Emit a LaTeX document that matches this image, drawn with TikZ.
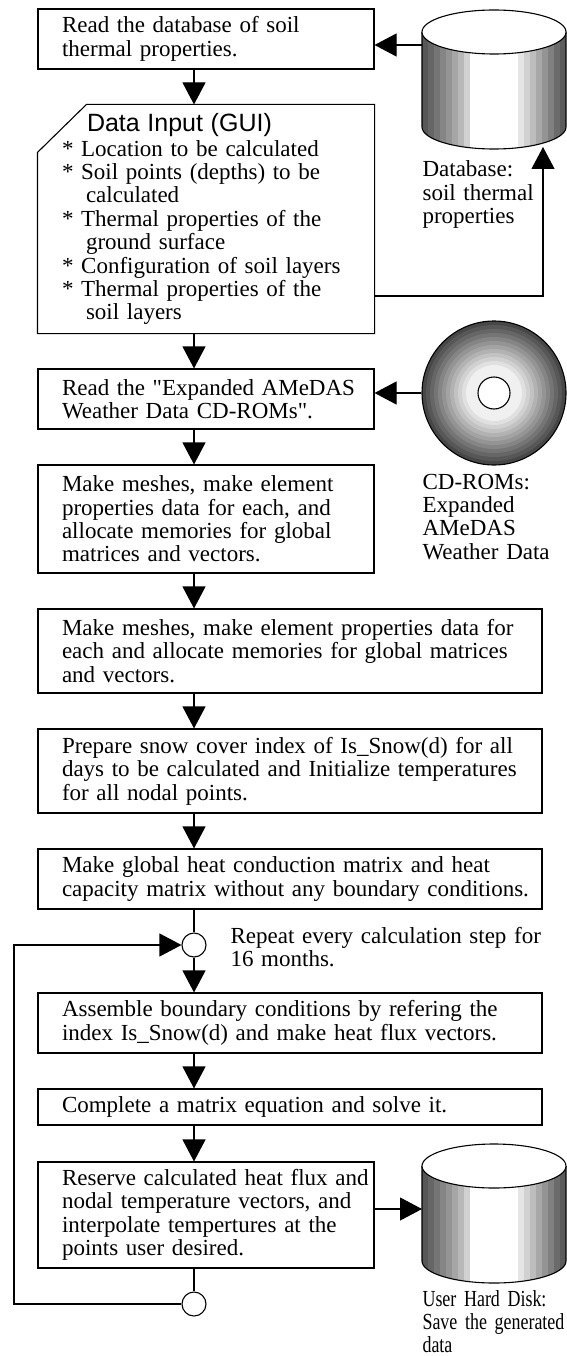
\documentclass[tikz,border=0pt]{standalone}
\usepackage{fontspec}
\setmainfont{Liberation Serif}[Ligatures=TeXOff]
\newfontfamily\guifont{Liberation Sans}
\newfontfamily\narrowfont{Liberation Serif}[FakeStretch=0.78]
\usetikzlibrary{arrows.meta}

% storage drum: #1 = centre x, #2 = y of the lid
\newcommand{\drawdrum}[2]{%
  \begin{scope}
    \clip (#1-72,#2) -- (#1-72,#2+95) arc [start angle=180, end angle=0, x radius=72, y radius=22] -- (#1+72,#2) -- cycle;
    \foreach \tone [count=\k from 0] in {66,60,54,48,42,35,28,18,0,0,0,0,0,0,0,0,10,18,26,34,42,50,58,64}
      \fill[black!\tone] (#1-72+6*\k,#2) rectangle ++(6.3,120);
  \end{scope}
  \draw (#1-72,#2) -- (#1-72,#2+95) arc [start angle=180, end angle=0, x radius=72, y radius=22] -- (#1+72,#2);
  \draw[fill=white] (#1,#2) ellipse [x radius=72, y radius=22];
}

\begin{document}
\begin{tikzpicture}[x=1pt, y=-1pt, line width=1.1pt, >={Triangle[length=22pt,width=23pt]}, font=\fontsize{23pt}{23.4pt}\selectfont]
        \tikzstyle{stepbox}=[draw, fill=white, text width=336pt, minimum height=60pt, inner xsep=0pt, inner ysep=0pt, align=left, execute at begin node={\leftskip=24pt\rightskip=-24pt plus 1fil}]
        \tikzstyle{widestep}=[stepbox, text width=504pt]
        \tikzstyle{joint}=[circle, draw, fill=white, inner sep=0pt, minimum size=24pt]
        \tikzstyle{note}=[anchor=base west, text width=200pt, inner sep=0pt, align=left]
        \useasboundingbox (0,0) rectangle (566,1356);

        \node[stepbox] (read) at (206,39) {Read the database of soil\\thermal properties.};
        \node[stepbox, draw=none, fill=none, minimum height=228pt] (input) at (206,219) {\hspace*{25pt}{\guifont\fontsize{25pt}{25pt}\selectfont Data Input (GUI)}\\[1.6pt]
            {*} Location to be calculated\\
            {*} Soil points (depths) to be\\
            \hspace*{24pt}calculated\\
            {*} Thermal properties of the\\
            \hspace*{24pt}ground surface\\
            {*} Configuration of soil layers\\
            {*} Thermal properties of the\\
            \hspace*{24pt}soil layers};
        \draw ([xshift=49pt]input.north west) -- (input.north east) -- (input.south east) -- (input.south west) -- ([yshift=-48pt]input.north west) -- cycle;
        \node[stepbox] (amedas) at (206,399) {Read the "Expanded AMeDAS\\Weather Data CD-ROMs".};
        \node[stepbox, minimum height=108pt] (meshA) at (206,519) {Make meshes, make element\\properties data for each, and\\allocate memories for global\\matrices and vectors.};
        \node[widestep, minimum height=84pt] (meshB) at (290,651) {Make meshes, make element properties data for\\each and allocate memories for global matrices\\and vectors.};
        \node[widestep, minimum height=84pt] (snow) at (290,771) {Prepare snow cover index of Is\_Snow(d) for all\\days to be calculated and Initialize temperatures\\for all nodal points.};
        \node[widestep] (global) at (290,879) {Make global heat conduction matrix and heat\\capacity matrix without any boundary conditions.};
        \node[joint] (loopin) at (194,945) {};
        \node[note, text width=330pt] (repeat) at (230,943) {Repeat every calculation step for\\16 months.};
        \node[widestep] (assemble) at (290,1023) {Assemble boundary conditions by refering the\\index Is\_Snow(d) and make heat flux vectors.};
        \node[widestep, minimum height=36pt] (solve) at (290,1107) {Complete a matrix equation and solve it.};
        \node[stepbox, minimum height=106pt] (reserve) at (206,1215) {Reserve calculated heat flux and\\nodal temperature vectors, and\\interpolate tempertures at the\\points user desired.};
        \node[joint] (loopout) at (194,1304) {};

        % soil database
        \drawdrum{494}{32}
        \coordinate (dbside) at (422,45);
        \coordinate (dbfoot) at (543,147);
        \coordinate (feed) at (0,296);
        \node[note] (dbnote) at (422,177) {Database:\\soil thermal\\properties};

        % weather CD-ROM
        \node[circle, minimum size=144pt, inner sep=0pt] (cd) at (494,393) {};
        \foreach \i [evaluate=\i as \rad using 72-4*\i, evaluate=\i as \tone using int(72-6*\i)] in {0,...,11}
            \fill[black!\tone] (cd.center) circle [radius=\rad];
        \draw (cd.center) circle [radius=72];
        \draw[fill=white] (cd.center) circle [radius=16];
        \node[note] (cdnote) at (422,489) {CD-ROMs:\\Expanded\\AMeDAS\\Weather Data};

        % user hard disk
        \drawdrum{494}{1166}
        \coordinate (hdside) at (422,1209);
        \node[note, font=\narrowfont\fontsize{23pt}{23.4pt}\selectfont] (hdnote) at (422,1306) {User Hard Disk:\\Save the generated\\data};

        \path [->] (read.south -| loopin) edge (input.north -| loopin);
        \path [->] (input.south -| loopin) edge (amedas.north -| loopin);
        \path [->] (amedas.south -| loopin) edge (meshA.north -| loopin);
        \path [->] (meshA.south -| loopin) edge (meshB.north -| loopin);
        \path [->] (meshB.south -| loopin) edge (snow.north -| loopin);
        \path [->] (snow.south -| loopin) edge (global.north -| loopin);
        \path (global.south -| loopin) edge (loopin);
        \path [->] (loopin) edge (assemble.north -| loopin);
        \path [->] (assemble.south -| loopin) edge (solve.north -| loopin);
        \path [->] (solve.south -| loopin) edge (reserve.north -| loopin);
        \path (reserve.south -| loopin) edge (loopout);
        \path [->] (dbside) edge (read.east |- dbside);
        \path [->] (cd) edge (amedas.east |- cd);
        \path [->] (reserve.east |- hdside) edge (hdside);
        \draw [->] (input.east |- feed) -| (dbfoot);
        % back to the top of the time loop
        \coordinate (back) at (14,1304);
        \draw [->] (loopout) -- (back) |- (loopin);
    \end{tikzpicture}
\end{document}
